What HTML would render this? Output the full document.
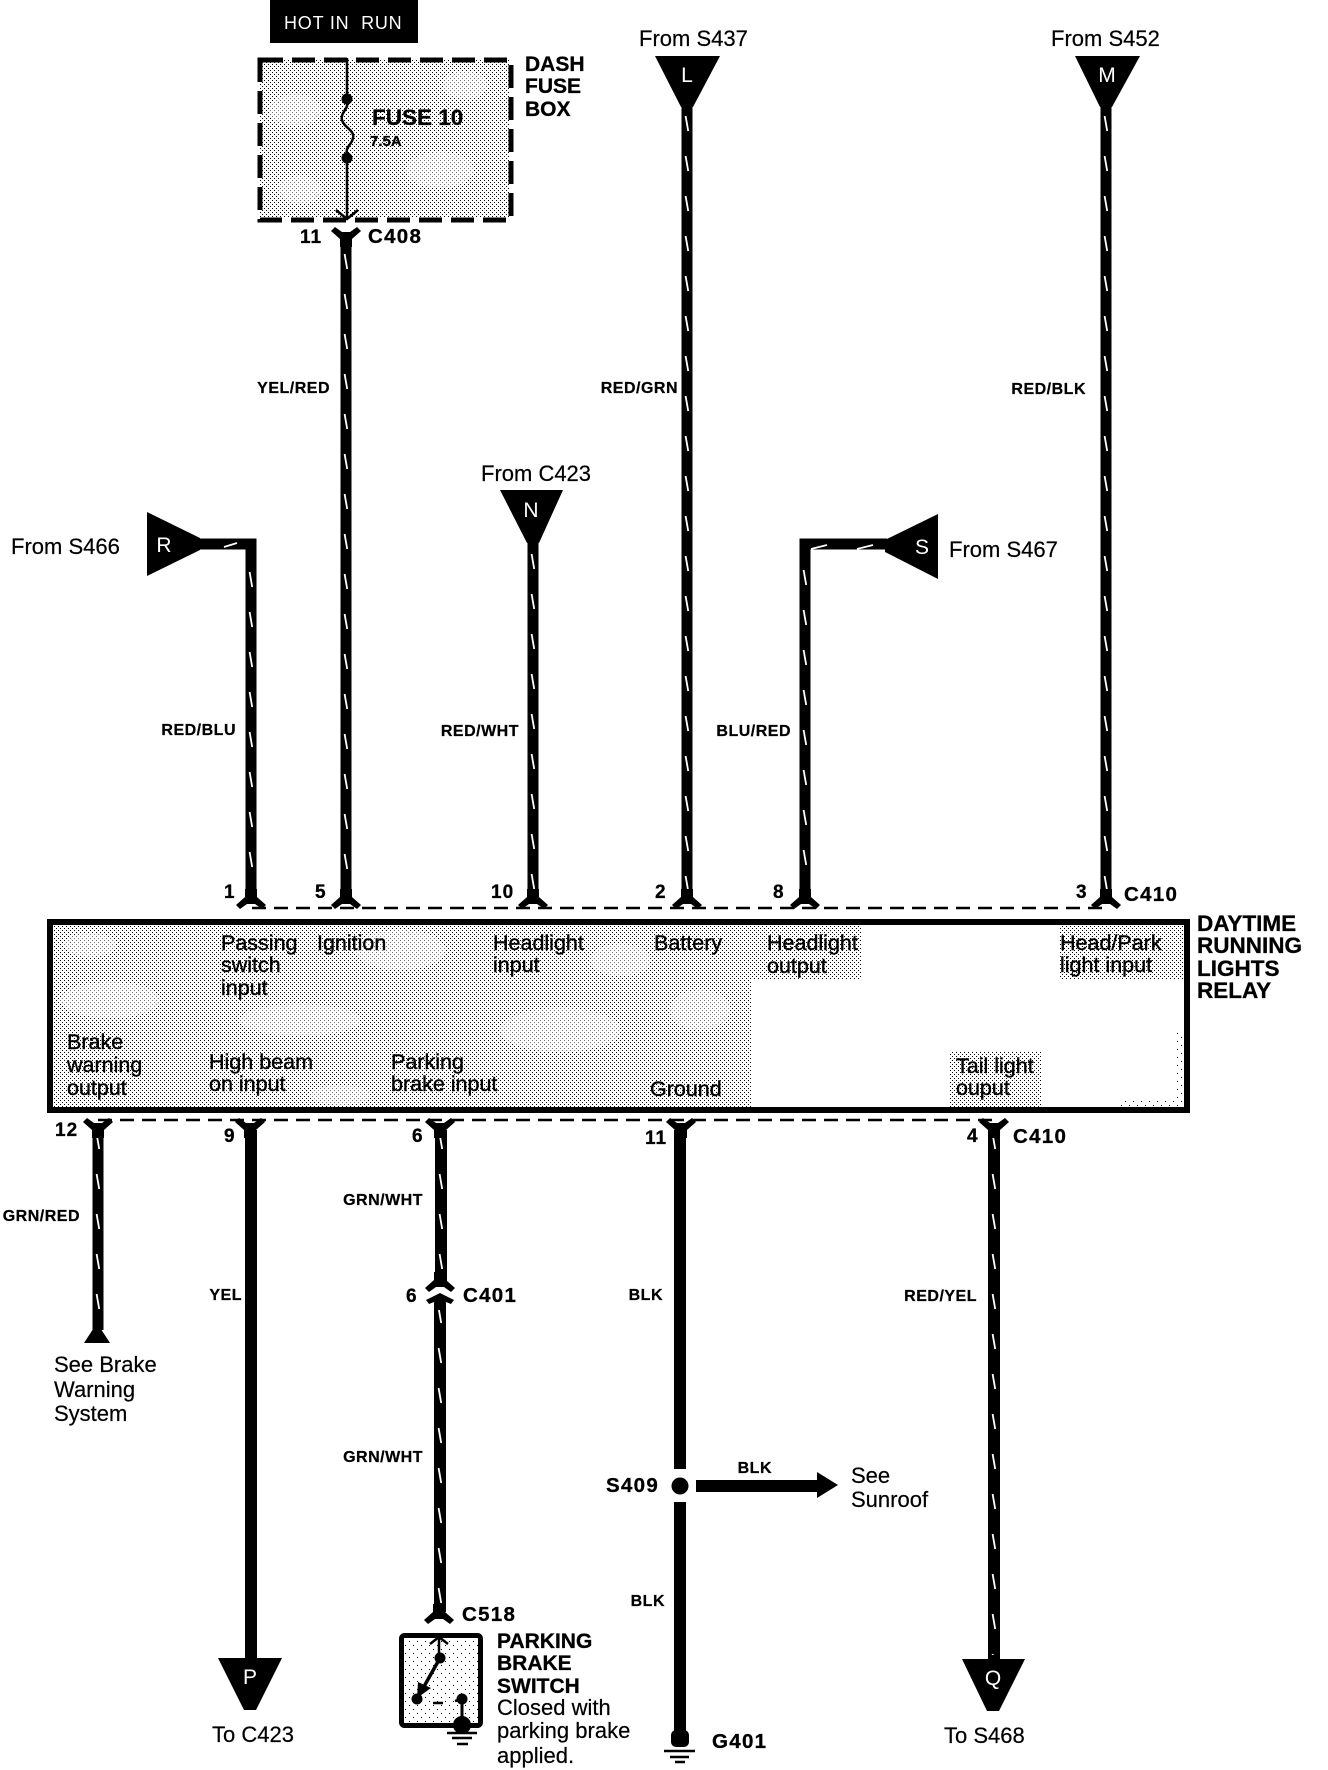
<!DOCTYPE html>
<html><head><meta charset="utf-8"><style>
html,body{margin:0;padding:0;background:#fff}
svg{display:block}
text{font-family:"Liberation Sans",sans-serif;fill:#000}
.r{font-size:21.5px;stroke:#000;stroke-width:.4px}
.b{font-size:21px;font-weight:bold;stroke:#000;stroke-width:.3px}
.p{font-size:19px;font-weight:bold;letter-spacing:1px;stroke:#000;stroke-width:.3px}
.c{font-size:20.5px;font-weight:bold;letter-spacing:1.3px;stroke:#000;stroke-width:.3px}
.w{font-size:16px;font-weight:bold;text-anchor:end;letter-spacing:.5px;stroke:#000;stroke-width:.25px}
.t{font-size:21px;text-anchor:middle;fill:#fff}
.l{font-size:22px;stroke:#000;stroke-width:.2px}
</style></head><body>
<svg xmlns="http://www.w3.org/2000/svg" width="1328" height="1770" viewBox="0 0 1328 1770">
<defs>
<pattern id="st" width="4" height="4" patternUnits="userSpaceOnUse"><rect x="0" y="0" width="1" height="1" fill="#000"/><rect x="2" y="2" width="1" height="1" fill="#000"/></pattern>
<pattern id="sp" width="8" height="8" patternUnits="userSpaceOnUse"><rect x="1" y="1" width="1" height="1" fill="#000"/><rect x="5" y="5" width="1" height="1" fill="#000"/></pattern>
<pattern id="ws" x="-10" width="20" height="40" patternUnits="userSpaceOnUse"><path d="M8.6 4L11.2 19" stroke="#fff" stroke-width="1.8" fill="none"/></pattern>
<polygon id="c1" points="-6,-18 6,-18 6,-10 15,-2 11,2 4,-3 -4,-3 -11,2 -15,-2 -6,-10"/>
<polygon id="c2" points="-6,18 6,18 6,10 15,2 11,-2 4,3 -4,3 -11,-2 -15,2 -6,10"/>
</defs>

<!-- Hot in run -->
<rect x="270" y="0" width="148" height="43" fill="#000"/>
<text x="284" y="29" font-size="18" style="fill:#fff;letter-spacing:.8px" xml:space="preserve">HOT IN  RUN</text>

<!-- Fuse box -->
<rect x="260" y="60" width="250" height="158" fill="url(#st)" shape-rendering="crispEdges"/>
<g fill="#fff" opacity=".45">
<ellipse cx="295" cy="110" rx="26" ry="16"/><ellipse cx="440" cy="170" rx="34" ry="18"/><ellipse cx="300" cy="190" rx="22" ry="14"/><ellipse cx="465" cy="85" rx="22" ry="14"/>
</g>
<rect x="260" y="60" width="251" height="160" fill="none" stroke="#000" stroke-width="5" stroke-dasharray="23 9"/>
<path d="M347 58V99M347 159V218" stroke="#000" stroke-width="2.5" fill="none"/>
<path d="M347 103C349 108 340 113 342 120C344 128 355 130 353 138C352 145 345 146 347 155" stroke="#000" stroke-width="2.5" fill="none"/>
<circle cx="347" cy="99" r="5.5"/><circle cx="347" cy="158" r="5.5"/>
<path d="M336 210L347 219L358 210" stroke="#000" stroke-width="2.5" fill="none"/>
<text x="372" y="125" class="b" style="font-size:22.5px">FUSE 10</text>
<text x="370" y="146" class="b" style="font-size:15px">7.5A</text>
<text x="525" y="71" class="b">DASH</text>
<text x="525" y="93" class="b">FUSE</text>
<text x="525" y="116" class="b">BOX</text>
<text x="300" y="243" class="p">11</text>
<text x="368" y="243" class="c">C408</text>

<!-- Top wires -->
<g fill="none" stroke="#000" stroke-width="11">
<path d="M200 544H251V895"/>
<path d="M346 235V895"/>
<path d="M533 540V895"/>
<path d="M687 100V895"/>
<path d="M887 544H805V895"/>
<path d="M1106 100V895"/>
</g>
<g fill="url(#ws)">
<g transform="translate(251,568)"><rect x="-6" y="0" width="12" height="320"/></g>
<g transform="translate(346,250)"><rect x="-6" y="0" width="12" height="640"/></g>
<g transform="translate(533,550)"><rect x="-6" y="0" width="12" height="340"/></g>
<g transform="translate(687,112)"><rect x="-6" y="0" width="12" height="780"/></g>
<g transform="translate(805,566)"><rect x="-6" y="0" width="12" height="320"/></g>
<g transform="translate(1106,112)"><rect x="-6" y="0" width="12" height="780"/></g>
</g>
<g stroke="#fff" stroke-width="1.8" fill="none">
<path d="M224 547L237 543M811 549L827 545M857 549L873 545"/>
<path d="M343 227L346 241"/>
</g>

<!-- Triangles -->
<polygon points="655,56 720,56 693,107 681,107"/><text x="687" y="82" class="t">L</text>
<polygon points="1075,56 1140,56 1112,107 1100,107"/><text x="1107" y="82" class="t">M</text>
<polygon points="500,490 563,490 539,543 527,543"/><text x="531" y="517" class="t">N</text>
<polygon points="147,512 147,576 200,550 200,538"/><text x="164" y="552" class="t">R</text>
<polygon points="938,514 938,579 885,552 885,540"/><text x="922" y="554" class="t">S</text>
<polygon points="218,1658 282,1658 256,1710 244,1710"/><text x="250" y="1684" class="t">P</text>
<polygon points="962,1659 1025,1659 999,1711 987,1711"/><text x="993" y="1685" class="t">Q</text>
<text x="639" y="46" class="l">From S437</text>
<text x="1051" y="46" class="l">From S452</text>
<text x="481" y="481" class="l">From C423</text>
<text x="11" y="554" class="l">From S466</text>
<text x="949" y="557" class="l">From S467</text>
<text x="212" y="1742" class="l">To C423</text>
<text x="944" y="1743" class="l">To S468</text>

<!-- Wire labels -->
<text x="330" y="393" class="w">YEL/RED</text>
<text x="678" y="393" class="w">RED/GRN</text>
<text x="1086" y="394" class="w">RED/BLK</text>
<text x="236" y="735" class="w">RED/BLU</text>
<text x="519" y="736" class="w">RED/WHT</text>
<text x="791" y="736" class="w">BLU/RED</text>
<text x="80" y="1221" class="w">GRN/RED</text>
<text x="423" y="1205" class="w">GRN/WHT</text>
<text x="242" y="1300" class="w">YEL</text>
<text x="663" y="1300" class="w">BLK</text>
<text x="977" y="1301" class="w">RED/YEL</text>
<text x="423" y="1462" class="w">GRN/WHT</text>
<text x="772" y="1473" class="w">BLK</text>
<text x="665" y="1606" class="w">BLK</text>

<!-- Connectors -->
<use href="#c2" x="346" y="229"/>
<path d="M252 908H1106" stroke="#000" stroke-width="2.5" stroke-dasharray="14 8" fill="none"/>
<path d="M98 1120H994" stroke="#000" stroke-width="2.5" stroke-dasharray="14 8" fill="none"/>
<use href="#c1" x="251" y="907"/><use href="#c1" x="346" y="907"/><use href="#c1" x="533" y="907"/>
<use href="#c1" x="687" y="907"/><use href="#c1" x="805" y="907"/><use href="#c1" x="1106" y="907"/>
<text x="224" y="898" class="p">1</text>
<text x="315" y="898" class="p">5</text>
<text x="491" y="898" class="p">10</text>
<text x="655" y="898" class="p">2</text>
<text x="773" y="898" class="p">8</text>
<text x="1076" y="898" class="p">3</text>
<text x="1124" y="901" class="c">C410</text>

<!-- Relay box -->
<rect x="53" y="925" width="699" height="182" fill="url(#st)" shape-rendering="crispEdges"/>
<rect x="752" y="925" width="110" height="55" fill="url(#st)" shape-rendering="crispEdges"/>
<rect x="1059" y="925" width="125" height="55" fill="url(#st)" shape-rendering="crispEdges"/>
<rect x="949" y="1052" width="92" height="55" fill="url(#st)" shape-rendering="crispEdges"/>
<rect x="1120" y="1100" width="64" height="7" fill="url(#sp)" shape-rendering="crispEdges"/>
<rect x="1176" y="1030" width="8" height="77" fill="url(#sp)" shape-rendering="crispEdges"/>
<g fill="#fff" opacity=".45">
<ellipse cx="110" cy="1000" rx="50" ry="18"/><ellipse cx="300" cy="1020" rx="60" ry="16"/><ellipse cx="400" cy="950" rx="45" ry="20"/>
<ellipse cx="560" cy="1030" rx="60" ry="22"/><ellipse cx="620" cy="960" rx="30" ry="16"/><ellipse cx="340" cy="1095" rx="30" ry="10"/><ellipse cx="700" cy="1010" rx="30" ry="20"/><ellipse cx="90" cy="945" rx="26" ry="12"/>
</g>
<rect x="50" y="922" width="1137" height="188" fill="none" stroke="#000" stroke-width="6"/>
<text class="r" x="221" y="950">Passing</text><text class="r" x="221" y="972">switch</text><text class="r" x="221" y="995">input</text>
<text class="r" x="317" y="950">Ignition</text>
<text class="r" x="493" y="950">Headlight</text><text class="r" x="493" y="972">input</text>
<text class="r" x="654" y="950">Battery</text>
<text class="r" x="767" y="950">Headlight</text><text class="r" x="767" y="973">output</text>
<text class="r" x="1060" y="950">Head/Park</text><text class="r" x="1060" y="972">light input</text>
<text class="r" x="67" y="1049">Brake</text><text class="r" x="67" y="1072">warning</text><text class="r" x="67" y="1095">output</text>
<text class="r" x="209" y="1069">High beam</text><text class="r" x="209" y="1091">on input</text>
<text class="r" x="391" y="1069">Parking</text><text class="r" x="391" y="1091">brake input</text>
<text class="r" x="650" y="1096">Ground</text>
<text class="r" x="956" y="1073">Tail light</text><text class="r" x="956" y="1095">ouput</text>
<text x="1197" y="931" class="b" style="font-size:22.5px">DAYTIME</text>
<text x="1197" y="953" class="b" style="font-size:22.5px">RUNNING</text>
<text x="1197" y="976" class="b" style="font-size:22.5px">LIGHTS</text>
<text x="1197" y="998" class="b" style="font-size:22.5px">RELAY</text>

<!-- Bottom wires -->
<g fill="none" stroke="#000">
<path d="M98 1130V1330" stroke-width="11"/>
<path d="M251 1130V1662" stroke-width="12"/>
<path d="M441 1130V1286" stroke-width="12"/>
<path d="M440 1304V1612" stroke-width="12"/>
<path d="M680 1130V1469" stroke-width="12"/>
<path d="M680 1502V1735" stroke-width="12"/>
<path d="M994 1130V1662" stroke-width="12"/>
</g>
<g fill="url(#ws)">
<g transform="translate(98,1130)"><rect x="-6" y="0" width="12" height="195"/></g>
<g transform="translate(441,1130)"><rect x="-6" y="0" width="12" height="148"/></g>
<g transform="translate(440,1304)"><rect x="-6" y="0" width="12" height="305"/></g>
<g transform="translate(994,1130)"><rect x="-6" y="0" width="12" height="525"/></g>
</g>
<use href="#c2" x="98" y="1120"/><use href="#c2" x="250" y="1120"/><use href="#c2" x="440" y="1120"/>
<use href="#c2" x="681" y="1120"/><use href="#c2" x="994" y="1120"/>
<use href="#c1" x="440" y="1290"/>
<polygon points="440,1293 454,1300 451,1304 446,1302 446,1310 434,1310 434,1302 429,1304 426,1300"/>
<use href="#c1" x="439" y="1622"/>
<text x="55" y="1136" class="p">12</text>
<text x="224" y="1142" class="p">9</text>
<text x="412" y="1142" class="p">6</text>
<text x="645" y="1144" class="p">11</text>
<text x="967" y="1142" class="p">4</text>
<text x="1013" y="1143" class="c">C410</text>
<text x="406" y="1302" class="p">6</text>
<text x="463" y="1302" class="c">C401</text>
<text x="462" y="1621" class="c">C518</text>
<polygon points="97,1323 110,1343 84,1343"/>
<text x="54" y="1372" class="l">See Brake</text>
<text x="54" y="1397" class="l">Warning</text>
<text x="54" y="1421" class="l">System</text>

<!-- S409 -->
<circle cx="680" cy="1486" r="8.5"/>
<polygon points="696,1480 817,1480 817,1472 838,1485 817,1498 817,1492 696,1492"/>
<text x="606" y="1492" class="c">S409</text>
<text x="851" y="1483" class="l">See</text>
<text x="851" y="1507" class="l">Sunroof</text>

<!-- Ground G401 -->
<rect x="671" y="1730" width="18" height="17" rx="5"/>
<path d="M664 1751H695M670 1757H689M675 1762H685" stroke="#000" stroke-width="2.5" fill="none"/>
<text x="712" y="1748" class="c">G401</text>

<!-- Parking brake switch -->
<rect x="404" y="1638" width="74" height="85" fill="url(#sp)" shape-rendering="crispEdges"/>
<rect x="401.5" y="1635.5" width="79" height="90" rx="3" fill="none" stroke="#000" stroke-width="5"/>
<path d="M439 1637V1658M430 1644L439 1637L448 1644" stroke="#000" stroke-width="2.5" fill="none"/>
<path d="M440 1658L417 1699" stroke="#000" stroke-width="3.5" fill="none"/>
<polygon points="418,1682 431,1688 417,1698"/>
<circle cx="440" cy="1658" r="5.5"/><circle cx="417" cy="1699" r="5.5"/><circle cx="462" cy="1699" r="5.5"/>
<path d="M433 1703H443M455 1701L462 1699" stroke="#000" stroke-width="2.5" fill="none"/>
<path d="M462 1699V1725" stroke="#000" stroke-width="3" fill="none"/>
<circle cx="462" cy="1725" r="9"/>
<path d="M447 1733H477M452 1738H472M457 1744H468" stroke="#000" stroke-width="2.5" fill="none"/>
<text x="497" y="1648" class="b">PARKING</text>
<text x="497" y="1670" class="b">BRAKE</text>
<text x="497" y="1693" class="b">SWITCH</text>
<text x="497" y="1715" class="l">Closed with</text>
<text x="497" y="1738" class="l">parking brake</text>
<text x="497" y="1763" class="l">applied.</text>
</svg>
</body></html>
